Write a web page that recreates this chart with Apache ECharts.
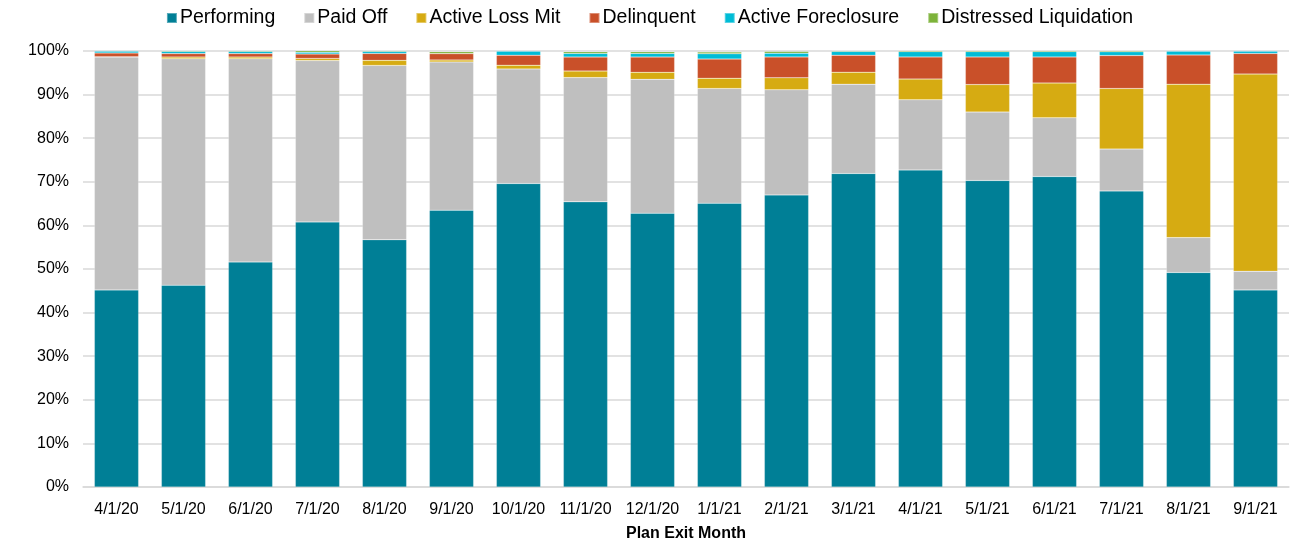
<!DOCTYPE html>
<html>
<head>
<meta charset="utf-8">
<script src="https://cdn.jsdelivr.net/npm/echarts@6/dist/echarts.min.js"></script>
<style>
    html, body { margin: 0; padding: 0; background: #fff; }
    #chart { width: 1299px; height: 542px; }
</style>
</head>
<body>
<div id="chart"></div>
<script>
    // 类目 / categories
    var months = ['4/1/20', '5/1/20', '6/1/20', '7/1/20', '8/1/20', '9/1/20', '10/1/20', '11/1/20', '12/1/20',
        '1/1/21', '2/1/21', '3/1/21', '4/1/21', '5/1/21', '6/1/21', '7/1/21', '8/1/21', '9/1/21']

    // 各状态占比(%)
    var performing = [45.2, 46.3, 51.6, 60.8, 56.7, 63.5, 69.6, 65.4, 62.8, 65.1, 67.0, 71.9, 72.7, 70.3, 71.2, 67.9, 49.2, 45.2]
    var paidOff = [53.4, 51.9, 46.6, 37.0, 40.0, 34.0, 26.3, 28.5, 30.7, 26.3, 24.1, 20.5, 16.1, 15.7, 13.5, 9.6, 8.0, 4.3]
    var lossMit = [0.1, 0.4, 0.4, 0.5, 1.15, 0.45, 0.85, 1.5, 1.6, 2.35, 2.75, 2.75, 4.75, 6.3, 7.95, 13.9, 35.2, 45.2]
    var delinquent = [0.85, 0.8, 0.8, 1.0, 1.6, 1.45, 2.3, 3.2, 3.5, 4.4, 4.8, 3.9, 5.1, 6.35, 6.0, 7.55, 6.7, 4.75]
    var foreclosure = [0.4, 0.5, 0.5, 0.4, 0.45, 0.0, 0.9, 0.85, 0.85, 1.2, 0.85, 0.85, 1.2, 1.2, 1.2, 0.85, 0.85, 0.5]
    var liquidation = [0.4, 0.3, 0.3, 0.45, 0.3, 0.45, 0.3, 0.4, 0.4, 0.4, 0.4, 0.4, 0.4, 0.4, 0.4, 0.4, 0.4, 0.25]

    var seriesNames = ['Performing', 'Paid Off', 'Active Loss Mit', 'Delinquent', 'Active Foreclosure', 'Distressed Liquidation']
    var seriesData = [performing, paidOff, lossMit, delinquent, foreclosure, liquidation]
    var colors = ['#007f96', '#bfbfbf', '#d6ab12', '#c95029', '#00bcd6', '#7db33a']

    var chart = echarts.init(document.getElementById('chart'))

    var series = []
    for (var i = 0; i < seriesNames.length; i++) {
        series.push({
            name: seriesNames[i],
            type: 'bar',
            stack: 'total',
            barCategoryGap: '34%',
            itemStyle: {
                color: colors[i],
                borderColor: 'rgba(255,255,255,0.35)',
                borderWidth: 0.5
            },
            data: seriesData[i]
        })
    }

    var option = {
        animation: false,
        color: colors,
        textStyle: { fontFamily: 'Liberation Sans, Arial, sans-serif' },
        legend: {
            top: 3,
            left: 'center',
            itemWidth: 10,
            itemHeight: 10,
            itemGap: 28,
            icon: 'rect',
            textStyle: { fontSize: 19.5, color: '#000', padding: [0, 0, 0, -2] },
            data: seriesNames
        },
        grid: {
            left: 83,
            right: 10,
            top: 51,
            bottom: 55,
            containLabel: false,
            outerBoundsMode: 'none'
        },
        xAxis: {
            type: 'category',
            data: months,
            name: 'Plan Exit Month',
            nameLocation: 'middle',
            nameGap: 39,
            nameTextStyle: { fontSize: 16, fontWeight: 'bold', color: '#000' },
            axisTick: { show: false },
            axisLine: { lineStyle: { color: '#d9d9d9', width: 1.5 } },
            axisLabel: { fontSize: 16, color: '#000', margin: 15, interval: 0 }
        },
        yAxis: {
            type: 'value',
            min: 0,
            max: 100,
            interval: 10,
            axisLine: { show: false },
            axisTick: { show: false },
            axisLabel: {
                fontSize: 16,
                color: '#000',
                margin: 14,
                formatter: function (val) {
                    return val + '%'
                }
            },
            splitLine: { lineStyle: { color: '#d9d9d9', width: 1.5 } }
        },
        series: series
    }

    chart.setOption(option)
</script>
</body>
</html>
